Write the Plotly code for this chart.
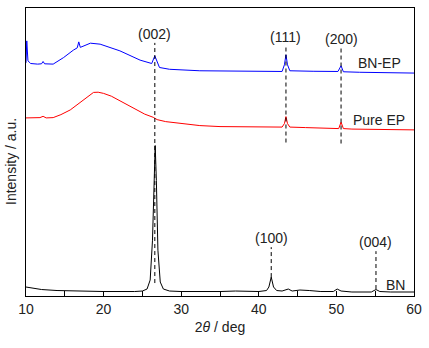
import plotly.graph_objects as go

# Intensity in arbitrary units (axis 0..289)
bn_x = [10, 11, 12, 14, 16, 20, 24, 25, 25.6, 26.0, 26.3, 26.5, 26.65, 26.8, 27.0, 27.3, 27.7, 28.5, 30, 35, 37, 40,
        41.0, 41.3, 41.6, 41.9, 42.3, 43.0, 43.8, 44.3, 45.3, 46.5, 48, 49.6, 50.1, 50.6, 52, 54.5, 55.1, 55.6, 57, 60]
bn_y = [9, 7.5, 6.5, 5.5, 5, 4.5, 4.5, 5, 7, 16, 56, 116, 151, 116, 46, 14, 7, 5, 4.5, 4.5, 5, 4.5,
        5.5, 9, 19, 9, 5.5, 5, 7, 5, 6, 5.5, 4.5, 4.5, 7, 5, 4, 4, 6.5, 4.5, 4, 4]

ep_x = [10, 11, 11.8, 12.2, 12.6, 13.5, 14.5, 15.7, 17, 18, 18.7, 19.3, 20, 21, 22.1, 23.2, 24.2, 25.3, 26.4, 26.9, 28, 30, 32.4, 35, 40,
        43.0, 43.3, 43.5, 43.7, 44.0, 46, 50.3, 50.6, 50.9, 52, 56, 60]
ep_y = [178.7, 178.5, 179, 180.3, 178.7, 179, 182, 186.7, 194.3, 200, 204.3, 204.5, 203.3, 200.5, 196, 191, 186.7, 182.5, 179.3, 177, 175, 173, 171, 170, 169.5,
        169.5, 173, 180, 173, 169.5, 169, 168, 174.5, 168, 167.5, 167, 166.7]

bnep_x = [10, 10.1, 10.25, 10.6, 11.5, 12.0, 12.2, 12.4, 13.5, 14.85, 16.1, 16.6, 16.8, 17.0, 18.3, 19.55, 22.1, 24.7, 26.2,
          26.6, 27.2, 28.5, 32.4, 38, 43.0, 43.3, 43.5, 43.7, 44.0, 47, 50.2, 50.6, 50.9, 53, 57, 60]
bnep_y = [234, 256, 236, 233.3, 232.7, 233, 235.3, 233, 232.7, 239.3, 246.7, 249, 255, 249.5, 253.7, 252.7, 246, 236.7, 233.3,
          241, 229.3, 227.5, 226, 225.5, 225.3, 232, 242, 232, 226, 225.5, 225.3, 231, 225, 224.5, 224, 223.7]

# Reflection markers: position, label, label height, dashed-line span
peak_x = [26.6, 43.5, 50.6, 41.6, 55.1]
peak_text = ["(002)", "(111)", "(200)", "(100)", "(004)"]
peak_label_y = [263, 260, 258, 58, 54]
peak_line_top = [254, 251, 250, 49, 45]
peak_line_bottom = [13, 154, 153, 19, 7]

series_names = ["BN-EP", "Pure EP", "BN"]
series_label_x = [55.6, 55.45, 57.6]
series_label_y = [234, 177, 11]

fig = go.Figure()
fig.add_trace(go.Scatter(x=bn_x, y=bn_y, mode="lines", line=dict(color="black", width=1), showlegend=False))
fig.add_trace(go.Scatter(x=ep_x, y=ep_y, mode="lines", line=dict(color="#ff0000", width=1), showlegend=False))
fig.add_trace(go.Scatter(x=bnep_x, y=bnep_y, mode="lines", line=dict(color="#0000ff", width=1), showlegend=False))

font = dict(family="Liberation Sans, Arial, sans-serif", size=14, color="#222")

for px, t, ly, lt, lb in zip(peak_x, peak_text, peak_label_y, peak_line_top, peak_line_bottom):
    fig.add_shape(type="line", x0=px, x1=px, y0=lb, y1=lt, xref="x", yref="y",
                  line=dict(color="black", width=1, dash="4px,3px"))
    fig.add_annotation(x=px, y=ly, text=t, showarrow=False, font=font, xref="x", yref="y")

for n, lx, ly in zip(series_names, series_label_x, series_label_y):
    fig.add_annotation(x=lx, y=ly, text=n, showarrow=False, font=font, xref="x", yref="y")

fig.add_annotation(x=-0.04, y=0.467, xref="paper", yref="paper", text="Intensity / a.u.", textangle=-90,
                   xanchor="center", yanchor="middle", showarrow=False, font=font)

fig.update_layout(
    width=429, height=348,
    margin=dict(l=26, r=13, t=7, b=52),
    paper_bgcolor="white", plot_bgcolor="white",
    font=font,
    xaxis=dict(range=[10, 60], dtick=10, ticks="inside", ticklen=5, tickcolor="black",
               showline=True, linecolor="black", linewidth=1, mirror=True, showgrid=False, zeroline=False,
               minor=dict(dtick=5, ticks="inside", ticklen=5, tickcolor="black", showgrid=False),
               title=dict(text="2<i>θ</i> / deg", font=font, standoff=6),
               tickfont=font),
    yaxis=dict(range=[0, 289], showticklabels=False, ticks="", showline=True, linecolor="black", linewidth=1,
               mirror=True, showgrid=False, zeroline=False),
)

fig.write_html("out.html")
